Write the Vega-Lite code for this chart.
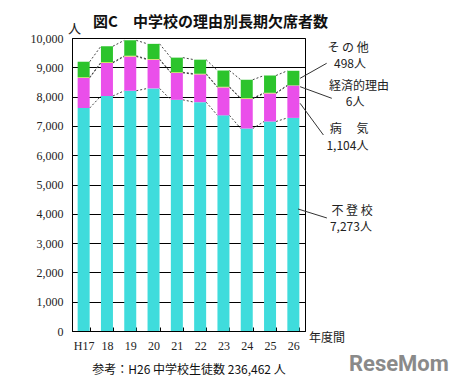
{
  "$schema": "https://vega.github.io/schema/vega-lite/v6.json",
  "width": 233,
  "height": 293,
  "autosize": "none",
  "padding": {"left": 72, "top": 38, "right": 156, "bottom": 60},
  "background": "white",
  "config": {
    "view": {"stroke": "black", "strokeWidth": 1},
    "font": "Noto Sans CJK JP",
    "axisY": {
      "grid": true, "gridColor": "black", "gridWidth": 1, "gridOpacity": 1,
      "ticks": false, "tickSize": 0, "domainColor": "black",
      "values": [0, 1000, 2000, 3000, 4000, 5000, 6000, 7000, 8000, 9000, 10000],
      "labelExpr": "datum.value == 0 ? '0' : floor(datum.value / 1000) + ',000'",
      "labelOverlap": false,
      "labelFont": "Liberation Serif", "labelFontSize": 12, "labelColor": "#222", "labelPadding": 9,
      "titleAngle": 0, "titleX": 2, "titleY": -10, "titleAlign": "center", "titleBaseline": "middle",
      "titleFont": "Noto Sans CJK JP", "titleFontSize": 13, "titleFontWeight": "normal", "titleColor": "#222"
    },
    "axisX": {
      "grid": false, "domainColor": "black", "tickColor": "black", "tickBand": "extent", "tickSize": -4,
      "labelFont": "Liberation Serif", "labelFontSize": 12, "labelColor": "#222", "labelPadding": 13, "labelAngle": 0,
      "titleFont": "Noto Sans CJK JP", "titleFontSize": 12, "titleFontWeight": "normal", "titleColor": "#111", "titlePadding": 13
    }
  },
  "title": {"text": "図C　中学校の理由別長期欠席者数", "font": "Noto Sans CJK JP", "fontSize": 15, "fontWeight": "bold", "color": "#111", "dx": 22, "offset": -8},
  "datasets": {
    "bars": [
      {"year": 17, "label": "H17", "cat": "不登校", "k": 1, "v": 7610},
      {"year": 17, "label": "H17", "cat": "病気", "k": 2, "v": 1030},
      {"year": 17, "label": "H17", "cat": "経済的理由", "k": 3, "v": 20},
      {"year": 17, "label": "H17", "cat": "その他", "k": 4, "v": 530},
      {"year": 18, "label": "18", "cat": "不登校", "k": 1, "v": 8020},
      {"year": 18, "label": "18", "cat": "病気", "k": 2, "v": 1130},
      {"year": 18, "label": "18", "cat": "経済的理由", "k": 3, "v": 20},
      {"year": 18, "label": "18", "cat": "その他", "k": 4, "v": 550},
      {"year": 19, "label": "19", "cat": "不登校", "k": 1, "v": 8200},
      {"year": 19, "label": "19", "cat": "病気", "k": 2, "v": 1170},
      {"year": 19, "label": "19", "cat": "経済的理由", "k": 3, "v": 20},
      {"year": 19, "label": "19", "cat": "その他", "k": 4, "v": 530},
      {"year": 20, "label": "20", "cat": "不登校", "k": 1, "v": 8280},
      {"year": 20, "label": "20", "cat": "病気", "k": 2, "v": 980},
      {"year": 20, "label": "20", "cat": "経済的理由", "k": 3, "v": 20},
      {"year": 20, "label": "20", "cat": "その他", "k": 4, "v": 520},
      {"year": 21, "label": "21", "cat": "不登校", "k": 1, "v": 7890},
      {"year": 21, "label": "21", "cat": "病気", "k": 2, "v": 920},
      {"year": 21, "label": "21", "cat": "経済的理由", "k": 3, "v": 20},
      {"year": 21, "label": "21", "cat": "その他", "k": 4, "v": 500},
      {"year": 22, "label": "22", "cat": "不登校", "k": 1, "v": 7810},
      {"year": 22, "label": "22", "cat": "病気", "k": 2, "v": 950},
      {"year": 22, "label": "22", "cat": "経済的理由", "k": 3, "v": 20},
      {"year": 22, "label": "22", "cat": "その他", "k": 4, "v": 480},
      {"year": 23, "label": "23", "cat": "不登校", "k": 1, "v": 7360},
      {"year": 23, "label": "23", "cat": "病気", "k": 2, "v": 955},
      {"year": 23, "label": "23", "cat": "経済的理由", "k": 3, "v": 20},
      {"year": 23, "label": "23", "cat": "その他", "k": 4, "v": 555},
      {"year": 24, "label": "24", "cat": "不登校", "k": 1, "v": 6910},
      {"year": 24, "label": "24", "cat": "病気", "k": 2, "v": 1015},
      {"year": 24, "label": "24", "cat": "経済的理由", "k": 3, "v": 20},
      {"year": 24, "label": "24", "cat": "その他", "k": 4, "v": 630},
      {"year": 25, "label": "25", "cat": "不登校", "k": 1, "v": 7150},
      {"year": 25, "label": "25", "cat": "病気", "k": 2, "v": 960},
      {"year": 25, "label": "25", "cat": "経済的理由", "k": 3, "v": 20},
      {"year": 25, "label": "25", "cat": "その他", "k": 4, "v": 590},
      {"year": 26, "label": "26", "cat": "不登校", "k": 1, "v": 7273},
      {"year": 26, "label": "26", "cat": "病気", "k": 2, "v": 1104},
      {"year": 26, "label": "26", "cat": "経済的理由", "k": 3, "v": 6},
      {"year": 26, "label": "26", "cat": "その他", "k": 4, "v": 498}
    ],
    "leaders": [
      {"ax": 26.29, "v": 8625, "ax2": 27.43, "v2": 9137},
      {"ax": 26.29, "v": 8338, "ax2": 27.65, "v2": 7942},
      {"ax": 26.29, "v": 7771, "ax2": 27.29, "v2": 6689},
      {"ax": 26.2, "v": 4164, "ax2": 27.44, "v2": 3857}
    ],
    "notes": [
      {"ax": 28.35, "v": 9649, "text": "そ の 他"},
      {"ax": 28.43, "v": 9113, "text": "498人"},
      {"ax": 28.82, "v": 8372, "text": "経済的理由"},
      {"ax": 28.65, "v": 7826, "text": "6人"},
      {"ax": 28.39, "v": 6884, "text": "病　 気"},
      {"ax": 28.32, "v": 6314, "text": "1,104人"},
      {"ax": 28.52, "v": 4096, "text": "不 登 校"},
      {"ax": 28.47, "v": 3549, "text": "7,273人"},
      {"ax": 27.44, "v": -239, "text": "年度間"}
    ],
    "logo": [
      {"ax": 30.53, "v": -1126, "text": "ReseMom"}
    ]
  },
  "layer": [
    {
      "data": {"name": "bars"},
      "transform": [
        {"stack": "v", "groupby": ["label"], "sort": [{"field": "k", "order": "ascending"}], "as": ["v0", "v1"]},
        {"window": [{"op": "lead", "field": "v1", "as": "nv1"}, {"op": "lead", "field": "label", "as": "nlabel"}], "groupby": ["cat"], "sort": [{"field": "year", "order": "ascending"}]},
        {"filter": "datum.nlabel != null"}
      ],
      "mark": {"type": "rule", "strokeDash": [2, 2], "color": "#444", "strokeWidth": 1, "xOffset": 6, "x2Offset": -6},
      "encoding": {
        "x": {"field": "label", "type": "ordinal", "scale": {"domain": ["H17", "18", "19", "20", "21", "22", "23", "24", "25", "26"], "paddingInner": 0.485, "paddingOuter": 0.2425}, "axis": null},
        "x2": {"field": "nlabel"},
        "y": {"field": "v1", "type": "quantitative", "scale": {"domain": [0, 10000], "nice": false}, "title": "人"},
        "y2": {"field": "nv1"}
      }
    },
    {
      "data": {"name": "bars"},
      "mark": {"type": "bar"},
      "encoding": {
        "x": {"field": "label", "type": "ordinal", "scale": {"domain": ["H17", "18", "19", "20", "21", "22", "23", "24", "25", "26"], "paddingInner": 0.485, "paddingOuter": 0.2425}, "title": "参考：H26 中学校生徒数 236,462 人"},
        "y": {"field": "v", "type": "quantitative", "stack": "zero", "scale": {"domain": [0, 10000], "nice": false}, "title": "人"},
        "color": {"field": "cat", "type": "nominal", "scale": {"domain": ["不登校", "病気", "経済的理由", "その他"], "range": ["#3FDCDC", "#EA4FEA", "#F0F040", "#2CC42C"]}, "legend": null},
        "order": {"field": "k", "type": "quantitative"}
      }
    },
    {
      "data": {"name": "leaders"},
      "mark": {"type": "rule", "color": "#333", "strokeWidth": 1},
      "encoding": {
        "x": {"field": "ax", "type": "quantitative", "scale": {"domain": [16.5, 26.5], "nice": false, "zero": false}, "axis": null},
        "x2": {"field": "ax2"},
        "y": {"field": "v", "type": "quantitative", "scale": {"domain": [0, 10000], "nice": false}, "title": "人"},
        "y2": {"field": "v2"}
      }
    },
    {
      "data": {"name": "notes"},
      "mark": {"type": "text", "font": "Noto Sans CJK JP", "fontSize": 12, "color": "#222", "align": "center", "baseline": "middle"},
      "encoding": {
        "x": {"field": "ax", "type": "quantitative", "scale": {"domain": [16.5, 26.5], "nice": false, "zero": false}, "axis": null},
        "y": {"field": "v", "type": "quantitative", "scale": {"domain": [0, 10000], "nice": false}, "title": "人"},
        "text": {"field": "text"}
      }
    },
    {
      "data": {"name": "logo"},
      "mark": {"type": "text", "font": "Roboto", "fontSize": 22, "fontWeight": "bold", "color": "#8a8a8a", "align": "center", "baseline": "middle"},
      "encoding": {
        "x": {"field": "ax", "type": "quantitative", "scale": {"domain": [16.5, 26.5], "nice": false, "zero": false}, "axis": null},
        "y": {"field": "v", "type": "quantitative", "scale": {"domain": [0, 10000], "nice": false}, "title": "人"},
        "text": {"field": "text"}
      }
    }
  ],
  "resolve": {"scale": {"x": "independent"}}
}
